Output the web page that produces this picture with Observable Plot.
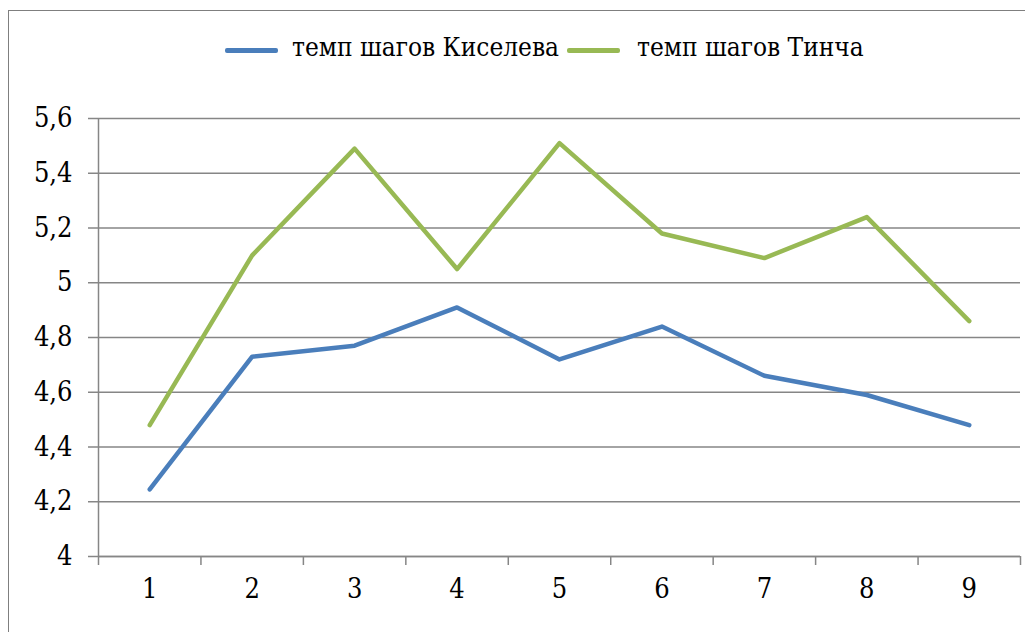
<!DOCTYPE html>
<html><head><meta charset="utf-8">
<script src="https://cdn.jsdelivr.net/npm/d3@7"></script>
<script src="https://cdn.jsdelivr.net/npm/@observablehq/plot@0.6"></script>
<style>
html,body{margin:0;padding:0;background:#fff;width:1025px;height:632px;overflow:hidden;}
#frame{position:absolute;left:8px;top:10px;width:1100px;height:700px;border:1.5px solid #7f7f7f;box-sizing:border-box;}
#legend{position:absolute;left:0;top:32px;width:1025px;height:36px;font-family:"DejaVu Serif Condensed","DejaVu Serif";font-stretch:condensed;font-size:26px;color:#000;}
.item{position:absolute;top:0;white-space:nowrap;}
.sw{position:absolute;top:16px;width:53px;height:5px;border-radius:2px;}
#chart{position:absolute;left:0;top:100px;}
</style></head><body>
<div id="frame"></div>
<div id="legend"></div>
<div id="chart"></div>
<script>
const steps = [1, 2, 3, 4, 5, 6, 7, 8, 9];
const kiselev = [4.245, 4.73, 4.77, 4.91, 4.72, 4.84, 4.66, 4.59, 4.48];
const tinch = [4.48, 5.10, 5.49, 5.05, 5.51, 5.18, 5.09, 5.24, 4.86];
const seriesNames = ["темп шагов Киселева", "темп шагов Тинча"];
const seriesColors = ["#4a7ebb", "#98b954"];
const yTicks = [4, 4.2, 4.4, 4.6, 4.8, 5, 5.2, 5.4, 5.6];

const data = [];
steps.forEach((s, i) => {
  data.push({step: s, value: kiselev[i], series: seriesNames[0]});
  data.push({step: s, value: tinch[i], series: seriesNames[1]});
});
const bounds = steps.map(s => s - 0.5).concat([steps[steps.length - 1] + 0.5]);
const fmt = d => String(+d.toFixed(1)).replace(".", ",");
const font = {fontFamily: "DejaVu Serif Condensed", fontSize: 27, fontStretch: "condensed"};

const plot = Plot.plot({
  width: 1025,
  height: 532,
  marginLeft: 98,
  marginRight: 5,
  marginTop: 18,
  marginBottom: 76,
  style: {fontFamily: "DejaVu Serif Condensed", fontSize: "27px", color: "#000", background: "transparent"},
  x: {type: "linear", domain: [0.5, 9.5]},
  y: {domain: [4, 5.6]},
  color: {domain: seriesNames, range: seriesColors},
  marks: [
    Plot.gridY(yTicks, {stroke: "#868686", strokeOpacity: 1, strokeWidth: 1.5}),
    Plot.axisY(yTicks, {tickSize: 10, tickPadding: 16, tickFormat: fmt, stroke: "#868686", strokeWidth: 1.5, fill: "#000", label: null, ...font}),
    Plot.axisX(steps, {tickSize: 0, tickPadding: 22, tickFormat: d => String(d), fill: "#000", label: null, ...font}),
    Plot.axisX(bounds, {tickSize: 9, tickFormat: () => "", stroke: "#868686", strokeWidth: 1.5, label: null}),
    Plot.ruleY([4], {stroke: "#868686", strokeWidth: 1.5}),
    Plot.ruleX([0.5], {stroke: "#868686", strokeWidth: 1.5}),
    Plot.line(data, {x: "step", y: "value", z: "series", stroke: "series", strokeWidth: 4.5, strokeLinejoin: "round", strokeLinecap: "round"})
  ]
});
d3.select(plot).selectAll("text")
  .attr("font-family", "DejaVu Serif Condensed")
  .attr("font-stretch", "condensed")
  .attr("font-size", 27);
document.getElementById("chart").appendChild(plot);

const legend = document.getElementById("legend");
const legendPos = [[225, 292], [567, 637]];
seriesNames.forEach((n, i) => {
  const sw = document.createElement("div");
  sw.className = "sw";
  sw.style.left = legendPos[i][0] + "px";
  sw.style.background = seriesColors[i];
  legend.appendChild(sw);
  const t = document.createElement("div");
  t.className = "item";
  t.style.left = legendPos[i][1] + "px";
  t.textContent = n;
  legend.appendChild(t);
});
</script>
</body></html>
